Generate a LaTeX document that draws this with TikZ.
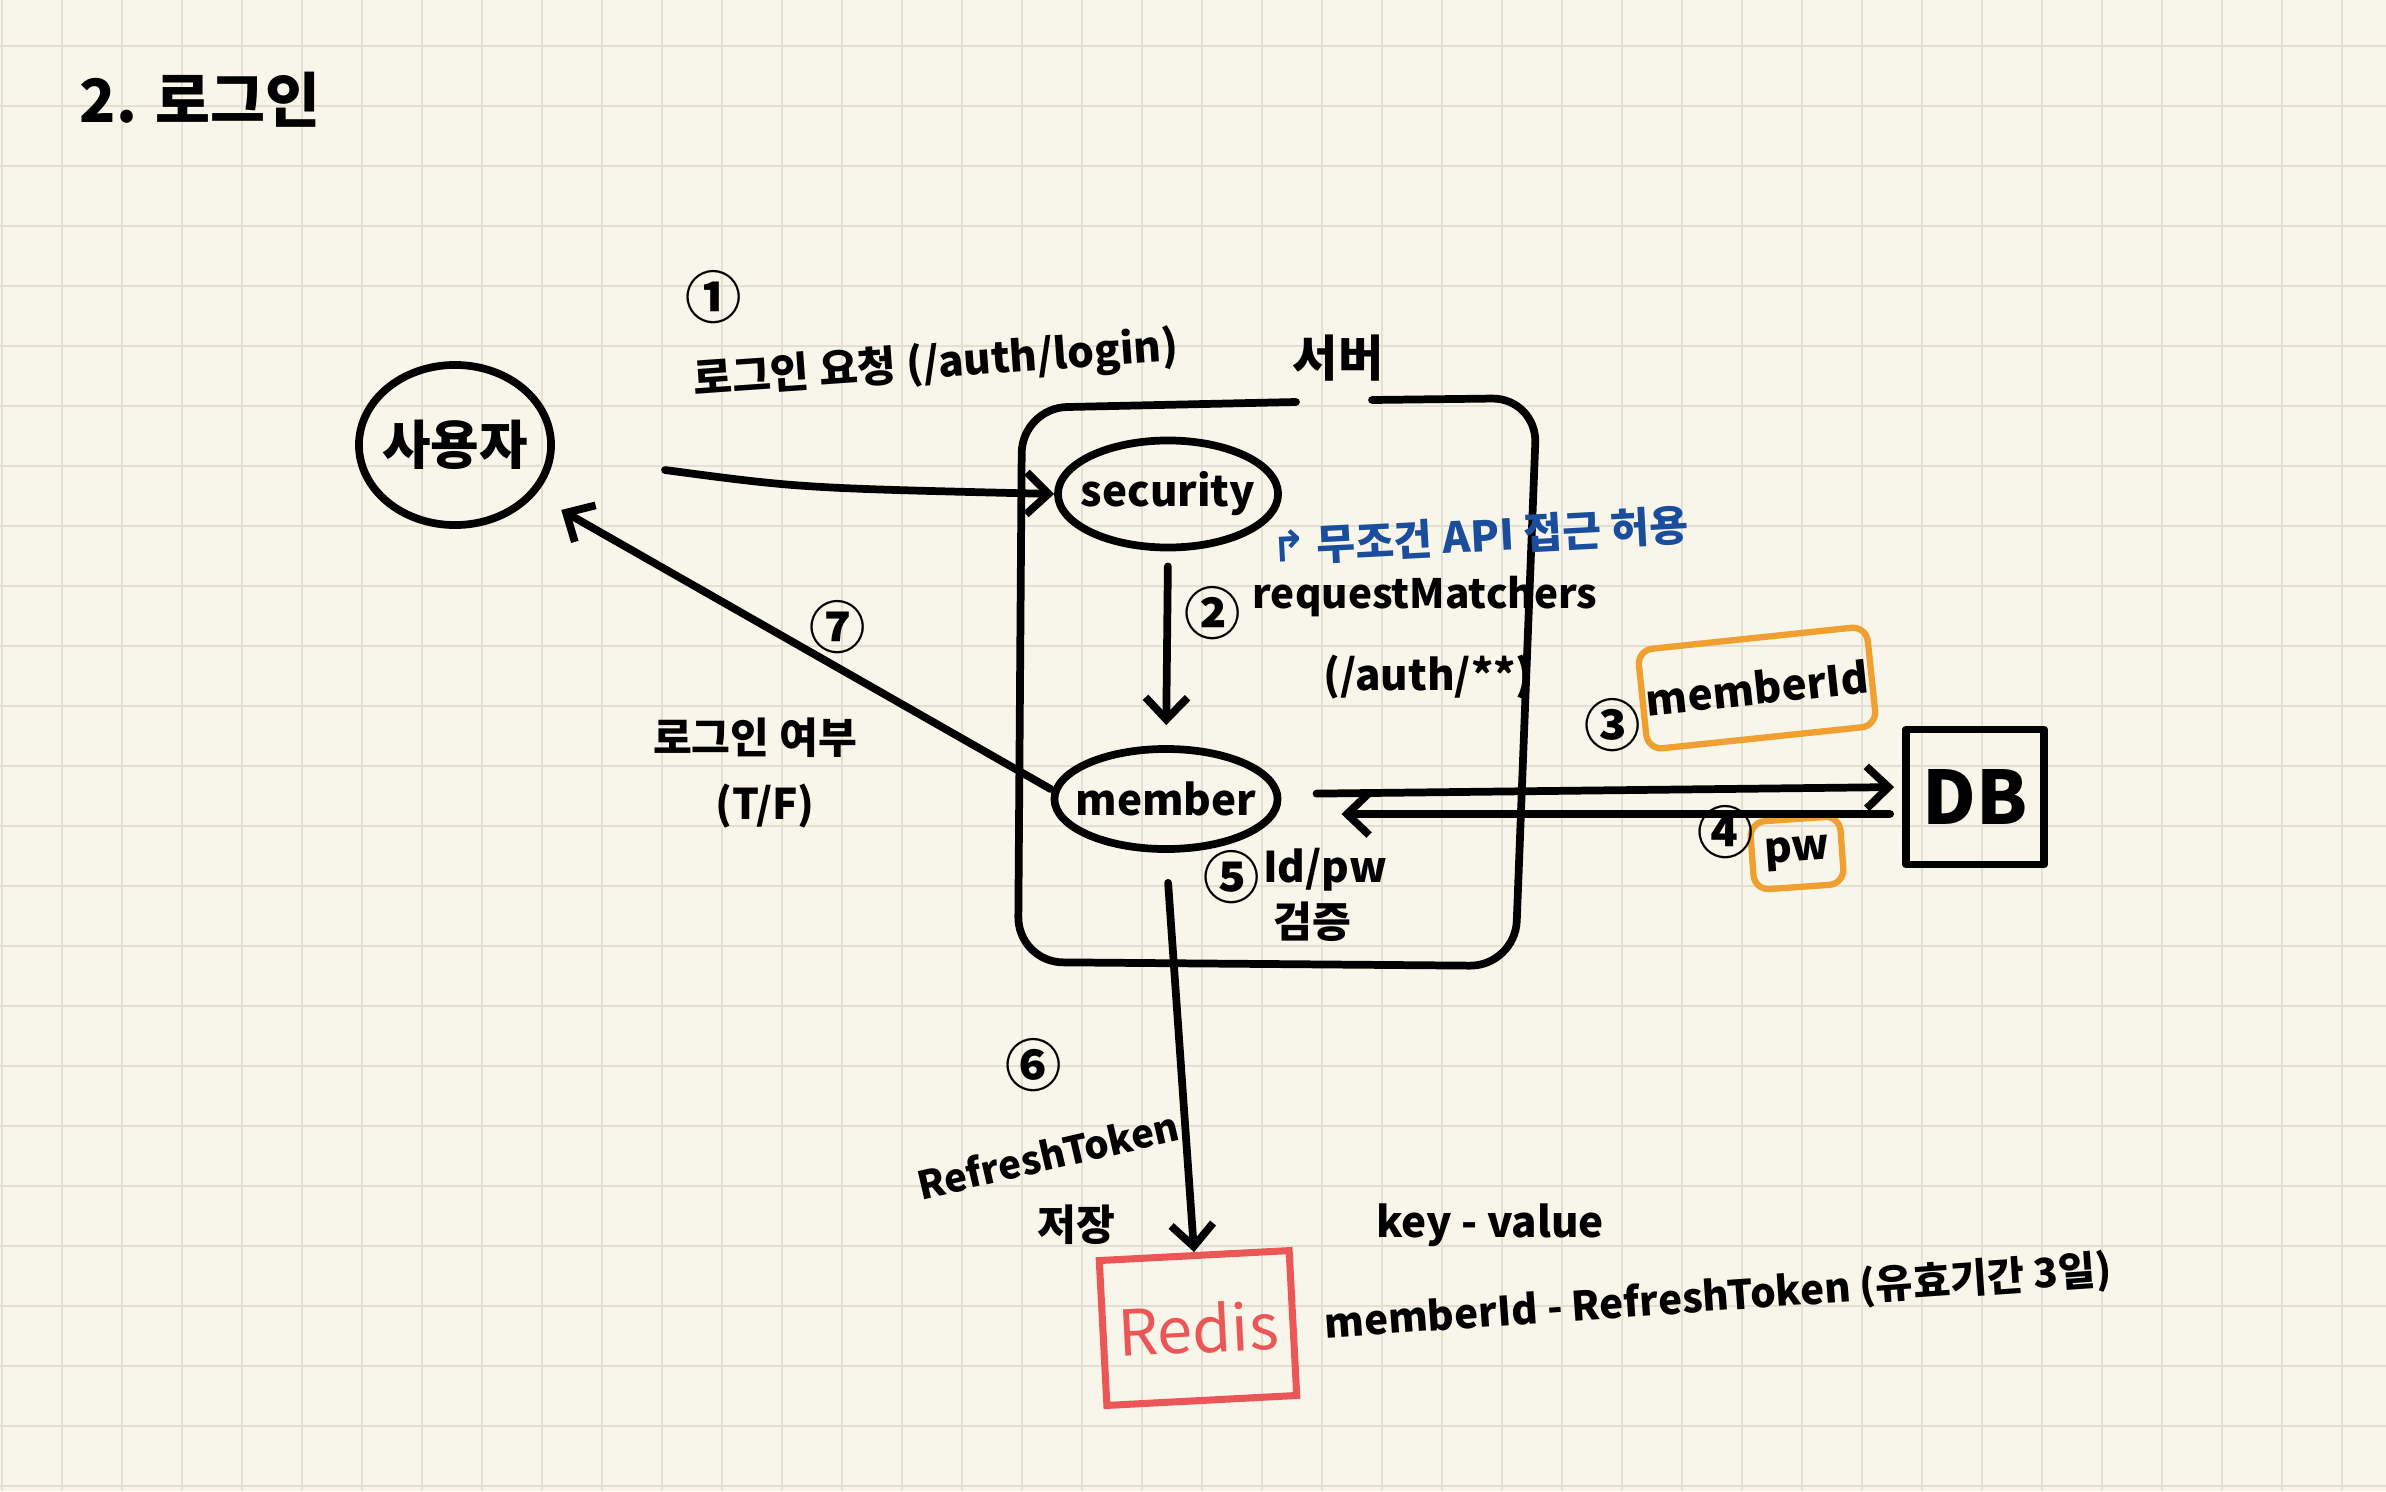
\documentclass[tikz,border=0pt]{standalone}
\usepackage{fontspec}
\setmainfont{Noto Sans CJK KR}
\newfontfamily\symfont{DejaVu Sans}
\usetikzlibrary{arrows.meta,shapes.geometric}

\definecolor{paper}{HTML}{F8F6EA}
\definecolor{gridline}{HTML}{E3E0D3}
\definecolor{mark}{HTML}{F0A030}
\definecolor{redis}{HTML}{EB5757}
\definecolor{note}{HTML}{1A4E9C}

\begin{document}
\begin{tikzpicture}[x=0.01cm,y=-0.01cm,
  hand/.style={line width=2.2pt,line cap=round,line join=round},
  flow/.style={hand,-{Straight Barb[length=0.22cm,width=0.42cm]}},
  txt/.style={font=\fontsize{12}{14}\selectfont\bfseries,inner sep=1pt},
  num/.style={font=\fontsize{16}{18}\selectfont\bfseries,inner sep=0pt},
  oval/.style={hand,draw,ellipse,inner sep=0pt},
  tag/.style={txt,draw=mark,line width=1.8pt,rounded corners=0.15cm,inner sep=0pt}]

  % paper
  \fill[paper] (0,0) rectangle (2386,1491);
  \useasboundingbox (0,0) rectangle (2386,1491);
  \foreach \gx in {2,62,...,2386} \draw[gridline,line width=0.6pt] (\gx,0) -- (\gx,1491);
  \foreach \gy in {46,106,...,1491} \draw[gridline,line width=0.6pt] (0,\gy) -- (2386,\gy);

  \node[font=\fontsize{17}{20}\selectfont\bfseries] (title) at (200,100) {2. 로그인};

  % actors
  \node[oval,txt,font=\fontsize{15}{17}\selectfont\bfseries,inner xsep=-0.12cm,minimum width=1.92cm,minimum height=1.6cm] (user) at (455,445) {사용자};
  \node[oval,txt,inner xsep=-0.2cm,minimum width=2.2cm,minimum height=1.07cm] (sec) at (1168,494) {security};
  \node[oval,txt,inner xsep=-0.2cm,minimum width=2.23cm,minimum height=1.0cm] (mem) at (1166,799) {member};
  \node[hand,draw,minimum width=1.38cm,minimum height=1.35cm,font=\fontsize{21}{24}\selectfont\bfseries] (db) at (1975,797) {DB};
  \node[draw=redis,text=redis,line width=2pt,minimum width=1.9cm,minimum height=1.45cm,rotate=3,
        font=\fontsize{18}{20}\selectfont] (redis) at (1198,1328) {Redis};
  \node[tag,minimum width=2.3cm,minimum height=1.0cm,rotate=6] (mid) at (1757,688) {memberId};
  \node[tag,minimum width=0.9cm,minimum height=0.68cm,rotate=4] (pw) at (1797,853) {pw};

  % server
  \node[txt,font=\fontsize{14}{16}\selectfont\bfseries] (srv) at (1338,358) {서버};
  \coordinate (srvL) at (1296,402);
  \coordinate (srvR) at (1372,400);
  \draw[hand,rounded corners=0.45cm] (srvL) -- (1022,408) -- (1018,962) -- (1515,966) -- (1537,398) -- (srvR);

  % flows
  \draw[flow] ([shift={(1.1cm,-0.25cm)}]user.east) .. controls (800,488) .. (sec.west);
  \draw[flow,shorten <=0.15cm,shorten >=0.2cm] (sec.south) -- (mem.north);
  \draw[flow,shorten <=0.35cm,shorten >=0.08cm] ([yshift=0.05cm]mem.east) -- ([yshift=0.1cm]db.west);
  \draw[flow,shorten <=0.12cm,shorten >=0.6cm] ([yshift=-0.17cm]db.west) -- ([yshift=-0.15cm]mem.east);
  \draw[flow,shorten <=0.3cm] (mem.south) -- (redis.north);
  \draw[flow,shorten >=0.3cm] ([yshift=0.1cm]mem.west) -- (user.-32);

  % labels
  \node[num] (n1) at (714,297) {①};
  \node[txt,rotate=4] (reqlbl) at (936,365) {로그인 요청 (/auth/login)};
  \node[txt,text=note,rotate=3] (permit) at (1480,536) {{\symfont ↱} 무조건 API 접근 허용};
  \node[num] (n2) at (1213,613) {②};
  \node[txt,font=\fontsize{11.5}{14}\selectfont\bfseries] (matcher) at (1425,597) {requestMatchers};
  \node[txt] (pattern) at (1428,677) {(/auth/**)};
  \node[num] (n3) at (1613,725) {③};
  \node[num] (n4) at (1726,832) {④};
  \node[num] (n5) at (1232,877) {⑤};
  \node[txt] (idpw) at (1325,870) {Id/pw};
  \node[txt,inner sep=0pt] (check) at (1312,922) {검증};
  \node[num] (n6) at (1034,1065) {⑥};
  \node[txt,font=\fontsize{11}{13}\selectfont\bfseries,rotate=13] (rtlbl) at (1048,1155) {RefreshToken};
  \node[txt] (save) at (1076,1225) {저장};
  \node[num] (n7) at (838,627) {⑦};
  \node[txt] (okq) at (755,738) {로그인 여부};
  \node[txt] (tf) at (765,806) {(T/F)};
  \node[txt,inner sep=0pt] (kv) at (1490,1225) {key - value};
  \node[txt,inner sep=0pt,font=\fontsize{11.5}{14}\selectfont\bfseries,rotate=4] (kvex) at (1718,1298) {memberId - RefreshToken (유효기간 3일)};
\end{tikzpicture}
\end{document}
